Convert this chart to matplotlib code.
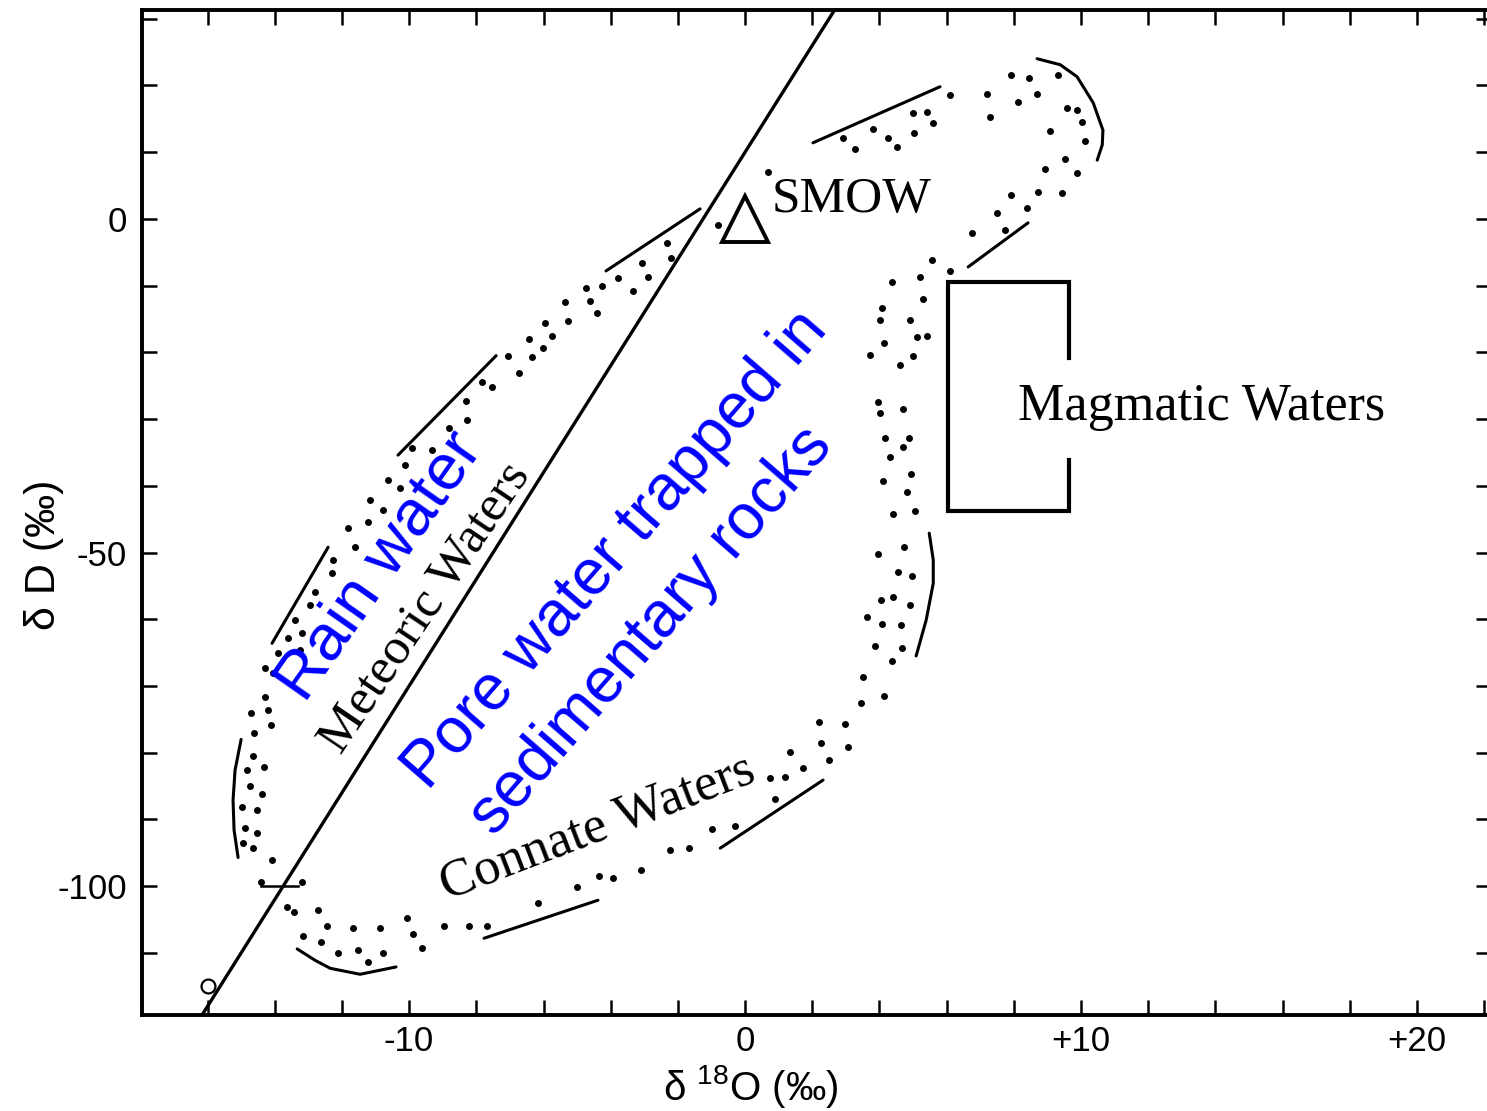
import numpy as np
import matplotlib.pyplot as plt

plt.rcParams['font.family'] = ['Liberation Sans', 'DejaVu Sans']
plt.rcParams['mathtext.fontset'] = 'custom'
plt.rcParams['mathtext.rm'] = 'Liberation Sans'

# dotted field of natural waters (d18O, dD in permil), traced around the loop
dot_o18 = [7.92, 8.45, 9.32, 8.69, 8.13, 7.20, 7.29, 6.10, 5.00, 5.42, 5.60, 3.81, 2.92, 3.27,
           4.26, 4.52, 5.03, 9.58, 9.88, 10.03, 9.08, 10.12, 9.52, 8.93, 9.88, 8.72, 9.43, 7.92,
           8.39, 7.50, 6.76, 7.74, 5.57, 6.10, 5.21, 4.38, 5.30, 4.08, 4.02, 4.91, 5.12, 5.42,
           4.14, 3.72, 5.00, 4.61, 3.96, 4.70, 4.02, 4.17, 4.88, 4.70, 4.32, 4.94, 4.11, 4.82,
           4.40, 5.06, 4.73, 3.96, 4.55, 4.97, 4.40, 4.05, 4.91, 3.63, 4.08, 4.64, 3.87, 4.67,
           4.38, 3.51, 4.14, 3.45, 2.20, 2.98, 2.26, 3.07, 2.50, 1.73, 1.34, 0.74, 1.19, 0.89,
           -0.30, -0.98, -1.67, -2.23, -3.10, -3.93, -4.35, -5.00, -6.16, -7.68, -8.21, -8.96,
           -9.61, -9.88, -10.06, -10.86, -11.67, -12.44, -10.77, -11.22, -11.52, -12.11, -12.62,
           -13.15, -12.71, -13.42, -13.63, -13.18, -14.40, -14.08, -14.64, -14.94, -14.52,
           -14.88, -14.52, -14.97, -14.38, -14.73, -14.32, -14.82, -14.64, -14.61, -14.11,
           -14.20, -14.70, -14.29, -14.29, -14.05, -13.90, -13.24, -13.60, -13.18, -13.39,
           -12.95, -12.80, -12.29, -12.26, -11.61, -11.82, -11.22, -10.77, -11.16, -10.27,
           -10.63, -10.12, -9.91, -9.32, -8.81, -8.27, -8.30, -7.83, -7.53, -7.05, -6.73, -6.34,
           -6.43, -6.01, -5.74, -5.95, -5.27, -5.36, -4.40, -4.61, -4.73, -4.26, -3.78, -3.33,
           -3.07, -2.89, -2.32, -2.20, -0.80, 0.68]
dot_dD = [21.6, 21.1, 21.6, 18.7, 17.5, 18.7, 15.3, 18.6, 15.9, 16.0, 14.4, 13.5, 12.1, 10.5,
          12.1, 10.8, 12.9, 16.6, 16.3, 14.5, 13.2, 11.7, 9.0, 7.5, 6.9, 4.0, 3.9, 3.6,
          1.6, 0.9, -2.1, -1.6, -6.1, -7.8, -8.7, -9.4, -12.0, -13.3, -15.1, -15.1, -17.7, -17.5,
          -18.6, -20.4, -20.5, -21.9, -27.4, -28.5, -29.1, -32.8, -32.8, -34.2, -35.7, -38.2,
          -39.3, -40.9, -44.2, -43.8, -49.2, -50.2, -52.9, -53.5, -56.7, -57.1, -57.9, -59.7,
          -60.7, -60.9, -64.0, -64.3, -66.3, -68.7, -71.5, -72.6, -75.4, -75.7, -78.6, -79.2,
          -81.1, -82.3, -79.9, -83.8, -83.7, -87.0, -91.0, -91.5, -94.2, -94.6, -97.5, -98.8,
          -98.4, -100.1, -102.5, -106.0, -106.0, -106.0, -109.3, -107.2, -104.8, -106.3, -106.3,
          -106.0, -110.0, -111.4, -109.6, -110.0, -108.4, -107.5, -103.6, -103.9, -103.1, -99.4,
          -99.4, -96.0, -94.3, -93.6, -92.1, -91.3, -88.6, -88.2, -86.2, -85.0, -82.2, -82.6,
          -80.5, -77.1, -75.9, -73.6, -74.1, -71.7, -67.3, -68.1, -65.1, -64.6, -62.8, -62.1,
          -60.1, -57.9, -55.9, -53.1, -51.1, -49.2, -46.3, -45.4, -43.6, -42.1, -40.3, -39.1,
          -36.9, -34.3, -34.6, -31.3, -30.1, -27.3, -24.4, -25.2, -20.5, -23.1, -20.7, -18.0,
          -19.3, -17.5, -15.6, -15.3, -12.4, -14.1, -12.3, -10.3, -10.0, -8.8, -10.8, -6.6,
          -8.7, -3.6, -5.8, -0.9, 7.0]

# solid outline strokes around the field
outline_strokes = [
    ([8.69, 9.38, 9.88, 10.36, 10.65, 10.63, 10.48], [24.0, 23.1, 21.3, 17.4, 13.3, 11.1, 8.8]),
    ([2.02, 5.80], [11.4, 19.8]),
    ([6.64, 8.42], [-7.2, -0.6]),
    ([-4.14, -1.34], [-7.8, 1.5]),
    ([-10.33, -7.41], [-35.4, -20.5]),
    ([-14.08, -12.41], [-63.6, -49.2]),
    ([-15.00, -15.18, -15.24, -15.21, -15.09], [-78.0, -82.6, -87.1, -91.6, -95.7]),
    ([-13.33, -12.80, -12.35, -11.46, -10.39], [-109.4, -111.1, -112.3, -113.2, -112.1]),
    ([-7.77, -4.38], [-107.8, -102.1]),
    ([-0.74, 2.32], [-94.3, -84.1]),
    ([5.48, 5.60, 5.60, 5.39, 5.09], [-47.1, -51.1, -54.6, -60.1, -65.5]),
]

# meteoric water line dD = 8 d18O + 10
mwl_slope = 8
mwl_intercept = 10
mwl_tick_o18 = [-14.4, -13.3]
mwl_tick_dD = -100
low_point = (-16.0, -115.0)

smow = (0, 0)

# magmatic water box and the gap on its right side
magmatic_o18 = [6.05, 9.65]
magmatic_dD = [-9.45, -43.8]
magmatic_gap = [-20.8, -36.1]

x_ticks = np.arange(-16, 23, 2)
x_labels = {-10: '-10', 0: '0', 10: '+10', 20: '+20'}
y_ticks = np.arange(-110, 31, 10)
y_labels = {0: '0', -50: '-50', -100: '-100'}

fig = plt.figure(figsize=(14.87, 11.11), dpi=100)
ax = fig.add_axes([142 / 1487, 1 - 1015 / 1111, 1349 / 1487, 1005 / 1111])
ax.set_xlim(-17.95, 22.2)
ax.set_ylim(-119.3, 31.3)

for s in ax.spines.values():
    s.set_linewidth(2.8)

ax.set_xticks(x_ticks)
ax.set_xticklabels([x_labels.get(int(v), '') for v in x_ticks])
ax.set_yticks(y_ticks)
ax.set_yticklabels([y_labels.get(int(v), '') for v in y_ticks])
ax.tick_params(direction='in', top=True, right=True, length=11, width=1.8,
               labelsize=25)
ax.tick_params(axis='x', pad=7)
ax.tick_params(axis='y', pad=11)

# field of dots and its outline
ax.plot(dot_o18, dot_dD, 'o', color='black', ms=5, mew=0)
for xs, ys in outline_strokes:
    ax.plot(xs, ys, color='black', lw=2.2, solid_capstyle='round')

# meteoric water line
ax.axline((0, mwl_intercept), slope=mwl_slope, color='black', lw=2.4)
ax.plot(mwl_tick_o18, [mwl_tick_dD, mwl_tick_dD], color='black', lw=1.8)
ax.plot(*low_point, 'o', ms=10, mfc='none', mec='black', mew=1.6)

# SMOW
ax.plot(*smow, marker='^', ms=33, mfc='none', mec='black', mew=2.8)
ax.text(0.8, 1.0, 'SMOW', family='Liberation Serif', fontsize=37,
        ha='left', va='baseline')

# magmatic waters box
x0, x1 = magmatic_o18
top, bot = magmatic_dD
g_hi, g_lo = magmatic_gap
ax.plot([x1, x1, x0, x0, x1, x1], [g_hi, top, top, bot, bot, g_lo],
        color='black', lw=3, solid_joinstyle='miter')
ax.text(8.12, -30.1, 'Magmatic Waters', family='Liberation Serif', fontsize=37.5,
        ha='left', va='baseline')

# field labels
ax.text(-9.5, -58.3, 'Meteoric Waters', family='Liberation Serif', fontsize=37,
        rotation=56, rotation_mode='anchor', ha='center', va='center')
ax.text(-4.38, -91.3, 'Connate Waters', family='Liberation Serif', fontsize=38,
        rotation=21, rotation_mode='anchor', ha='center', va='center')
ax.text(-10.85, -52.0, 'Rain water', color='#0000ff', fontsize=47,
        rotation=55, rotation_mode='anchor', ha='center', va='center')
ax.text(-3.85, -49.6, 'Pore water trapped in', color='#0000ff', fontsize=46,
        rotation=49, rotation_mode='anchor', ha='center', va='center')
ax.text(-2.8, -61.8, 'sedimentary rocks', color='#0000ff', fontsize=46,
        rotation=49, rotation_mode='anchor', ha='center', va='center')

# axis titles
ax.text(-0.073, 0.458, 'δ D (‰)', transform=ax.transAxes, rotation=90,
        fontsize=31, ha='center', va='center')
ax.text(0.451, -0.071, 'δ $^{18}$O (‰)', transform=ax.transAxes,
        fontsize=29, ha='center', va='center')

fig.savefig('out.png', dpi=100)
